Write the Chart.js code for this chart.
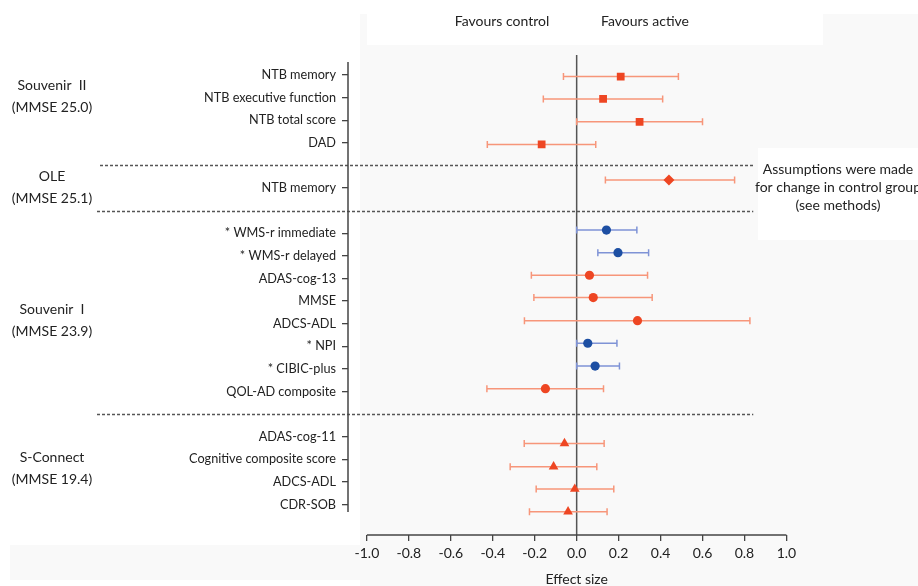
<!DOCTYPE html>
<html><head><meta charset="utf-8">
<script src="https://cdn.jsdelivr.net/npm/chart.js@4.4.0/dist/chart.umd.min.js"></script>
<style>html,body{margin:0;padding:0;background:#fff;}canvas{display:block}</style>
</head><body>
<div style="width:918px;height:586px;position:relative"><canvas id="c"></canvas></div>
<script>
// ---- data ----
const outcomes = ['NTB memory','NTB executive function','NTB total score','DAD',
  'NTB memory',
  '* WMS-r immediate','* WMS-r delayed','ADAS-cog-13','MMSE','ADCS-ADL','* NPI','* CIBIC-plus','QOL-AD composite',
  'ADAS-cog-11','Cognitive composite score','ADCS-ADL','CDR-SOB'];
const studyIndex = [0,0,0,0, 1, 2,2,2,2,2,2,2,2, 3,3,3,3];
const outcomeRows = [0,1,2,3, 5, 7,8,9,10,11,12,13,14, 16,17,18,19];
const markerRows = [0.07,1.06,2.07,3.07, 4.65, 6.86,7.86,8.86,9.85,10.87,11.87,12.88,13.88, 16.3,17.33,18.32,19.32];
const effect = [0.21,0.126,0.30,-0.167, 0.44, 0.142,0.197,0.061,0.079,0.29,0.053,0.088,-0.149, -0.058,-0.11,-0.009,-0.041];
const ciLow  = [-0.063,-0.159,0.0,-0.426, 0.137, 0.0,0.101,-0.216,-0.204,-0.249,0.0,0.0,-0.428, -0.25,-0.317,-0.193,-0.225];
const ciHigh = [0.485,0.41,0.60,0.091, 0.753, 0.287,0.343,0.338,0.36,0.826,0.192,0.204,0.128, 0.131,0.096,0.177,0.145];
const studies = ['Souvenir  II','OLE','Souvenir  I','S-Connect'];
const studyMmse = ['(MMSE 25.0)','(MMSE 25.1)','(MMSE 23.9)','(MMSE 19.4)'];
const studyLabelRows = [0.97, 4.98, 10.86, 17.4];
const separatorRows = [4, 6, 15];
const xTicks = [-1.0,-0.8,-0.6,-0.4,-0.2,0.0,0.2,0.4,0.6,0.8,1.0];
const xTickLabels = ['-1.0','-0.8','-0.6','-0.4','-0.2','0.0','0.2','0.4','0.6','0.8','1.0'];
const studyShapes = ['rect','rectRot','circle','triangle'];
const studyRadius = [5.5,5.5,4.6,5.6];

// ---- styles ----
const RED = '#ee4623', RED_BAR = '#f7967a', BLUE = '#1d4fa3', BLUE_BAR = '#7f93d6';
const FONT = 'Lato';
Chart.defaults.font.family = FONT;
Chart.defaults.color = '#222';

const isStar = outcomes.map(o => o.startsWith('*'));

const datasets = studies.map((s, k) => {
  const idx = studyIndex.map((v,i)=>v===k?i:-1).filter(i=>i>=0);
  return {
    label: s,
    data: idx.map(i => ({x: effect[i], y: markerRows[i]})),
    pointStyle: studyShapes[k],
    pointRadius: studyRadius[k],
    pointBorderWidth: 0,
    pointBackgroundColor: idx.map(i => isStar[i] ? BLUE : RED),
    pointBorderColor: idx.map(i => isStar[i] ? BLUE : RED),
    showLine: false
  };
});

const deco = {
  id: 'deco',
  beforeDraw(chart) {
    const {ctx} = chart;
    ctx.save();
    ctx.fillStyle = '#fff'; ctx.fillRect(0,0,chart.width,chart.height);
    ctx.fillStyle = '#f9f9f9';
    ctx.fillRect(360,14,558,572);
    ctx.fillRect(10,545,350,35);
    ctx.fillStyle = '#fff';
    ctx.fillRect(367,0,456,45);
    ctx.fillRect(758,148,160,92);
    ctx.restore();
  },
  beforeDatasetsDraw(chart) {
    const {ctx, chartArea:a, scales:{x,y}} = chart;
    ctx.save();
    // separators
    ctx.strokeStyle = '#555'; ctx.lineWidth = 1.4; ctx.setLineDash([3,2]);
    separatorRows.forEach((r, k) => {
      const py = Math.round(y.getPixelForValue(r)) + 0.5;
      ctx.beginPath(); ctx.moveTo(k === 0 ? 100 : 97, py); ctx.lineTo(x.getPixelForValue(0.842), py); ctx.stroke();
    });
    ctx.setLineDash([]);
    // zero line
    ctx.strokeStyle = '#555'; ctx.lineWidth = 1.5;
    const zx = x.getPixelForValue(0);
    ctx.beginPath(); ctx.moveTo(zx, a.top); ctx.lineTo(zx, a.bottom); ctx.stroke();
    // left axis
    ctx.strokeStyle = '#444'; ctx.lineWidth = 1.5;
    ctx.beginPath(); ctx.moveTo(a.left, y.getPixelForValue(-0.57)); ctx.lineTo(a.left, y.getPixelForValue(19.34)); ctx.stroke();
    // x axis
    ctx.beginPath(); ctx.moveTo(x.getPixelForValue(-1), a.bottom); ctx.lineTo(x.getPixelForValue(1), a.bottom); ctx.stroke();
    // error bars
    ctx.lineWidth = 1.5;
    effect.forEach((e,i) => {
      const py = y.getPixelForValue(markerRows[i]);
      const x1 = x.getPixelForValue(ciLow[i]), x2 = x.getPixelForValue(ciHigh[i]);
      ctx.strokeStyle = isStar[i] ? BLUE_BAR : RED_BAR;
      ctx.beginPath();
      ctx.moveTo(x1, py); ctx.lineTo(x2, py);
      ctx.moveTo(x1, py-3.5); ctx.lineTo(x1, py+3.5);
      ctx.moveTo(x2, py-3.5); ctx.lineTo(x2, py+3.5);
      ctx.stroke();
    });
    ctx.restore();
  },
  afterDraw(chart) {
    const {ctx, scales:{x,y}} = chart;
    ctx.save();
    ctx.fillStyle = '#222';
    ctx.textAlign = 'center'; ctx.textBaseline = 'middle';
    ctx.font = '14px ' + FONT;
    studies.forEach((s,k) => {
      const py = y.getPixelForValue(studyLabelRows[k]);
      ctx.fillText(s, 52, py - 11);
      ctx.fillText(studyMmse[k], 52, py + 11);
    });
    ctx.fillText('Favours control', 502, 21);
    ctx.fillText('Favours active', 645, 21);
    ctx.fillText('Effect size', x.getPixelForValue(0), 579);
    ctx.fillText('Assumptions were made', 838, 169);
    ctx.fillText('for change in control group', 838, 187);
    ctx.fillText('(see methods)', 838, 205);
    ctx.restore();
  }
};

new Chart(document.getElementById('c'), {
  type: 'scatter',
  data: { datasets },
  options: {
    responsive: true, maintainAspectRatio: false, animation: false, events: [],
    layout: { padding: { top: 55, right: 0, bottom: 0, left: 0 } },
    plugins: { legend: { display: false }, tooltip: { enabled: false } },
    scales: {
      x: {
        type: 'linear', min: -1.0902, max: 1.6007,
        afterBuildTicks: s => { s.ticks = xTicks.map(v => ({value: v})); },
        afterFit: s => { s.height = 51; },
        ticks: { font: { size: 14 }, color: '#222', padding: 4, maxRotation: 0, autoSkip: false,
          callback: (v) => { const i = xTicks.findIndex(t => Math.abs(t - v) < 1e-6); return i >= 0 ? xTickLabels[i] : ''; } },
        grid: { display: true, drawOnChartArea: false, drawTicks: true, tickLength: 6, color: '#444', lineWidth: 1.3 },
        border: { display: false }
      },
      y: {
        type: 'linear', reverse: true, min: -0.885, max: 20.354,
        afterBuildTicks: s => { s.ticks = outcomeRows.map(v => ({value: v})); },
        afterFit: s => { s.width = 348; },
        ticks: { font: { size: 12.7 }, color: '#222', padding: 6, autoSkip: false,
          callback: (v) => { const i = outcomeRows.indexOf(v); return i >= 0 ? outcomes[i] : ''; } },
        grid: { display: true, drawOnChartArea: false, drawTicks: true, tickLength: 6, color: '#444', lineWidth: 1.3 },
        border: { display: false }
      }
    }
  },
  plugins: [deco]
});
</script>
</body></html>
